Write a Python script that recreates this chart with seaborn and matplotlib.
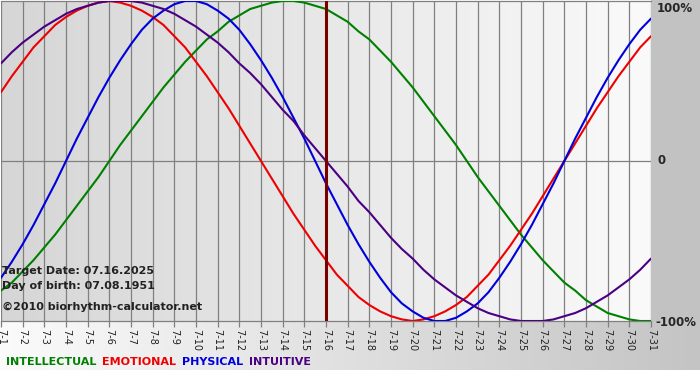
import numpy as np
import pandas as pd
import matplotlib
matplotlib.use("Agg")
import matplotlib.pyplot as plt
import seaborn as sns

# 7-1 .. 7-31 (2025), birth 07.08.1951, target 07.16.2025
# values read every half day (index 0 = 7-1, step 0.5 day)
day_labels = ["7-%d" % (i + 1) for i in range(31)]

physical = [-73, -63, -52, -40, -27, -14, 0, 14, 27, 40, 52, 63, 73, 82, 89, 94,
            98, 100, 100, 98, 94, 89, 82, 73, 63, 52, 40, 27, 14, 0, -14, -27,
            -40, -52, -63, -73, -82, -89, -94, -98, -100, -100, -98, -94, -89, -82,
            -73, -63, -52, -40, -27, -14, 0, 14, 27, 40, 52, 63, 73, 82, 89]
emotional = [43, 53, 62, 71, 78, 85, 90, 94, 97, 99, 100, 99, 97, 94, 90, 85,
             78, 71, 62, 53, 43, 33, 22, 11, 0, -11, -22, -33, -43, -53, -62, -71,
             -78, -85, -90, -94, -97, -99, -100, -99, -97, -94, -90, -85, -78, -71,
             -62, -53, -43, -33, -22, -11, 0, 11, 22, 33, 43, 53, 62, 71, 78]
intellectual = [-81, -76, -69, -62, -54, -46, -37, -28, -19, -10, 0, 10, 19, 28, 37, 46,
                54, 62, 69, 76, 81, 87, 91, 95, 97, 99, 100, 100, 99, 97, 95, 91,
                87, 81, 76, 69, 62, 54, 46, 37, 28, 19, 10, 0, -10, -19,
                -28, -37, -46, -54, -62, -69, -76, -81, -87, -91, -95, -97, -99, -100, -100]
intuitive = [61, 68, 74, 79, 84, 88, 92, 95, 97, 99, 100, 100, 100, 99, 97, 95,
             92, 88, 84, 79, 74, 68, 61, 55, 48, 40, 32, 25, 16, 8, 0, -8,
             -16, -25, -32, -40, -48, -55, -61, -68, -74, -79, -84, -88, -92, -95,
             -97, -99, -100, -100, -100, -99, -97, -95, -92, -88, -84, -79, -74, -68, -61]

target_day = 15
series_names = ["INTELLECTUAL", "EMOTIONAL", "PHYSICAL", "INTUITIVE"]
colors = {"INTELLECTUAL": "#008000", "EMOTIONAL": "#ee0000",
          "PHYSICAL": "#0000dd", "INTUITIVE": "#4b0082"}

steps = [i / 2 for i in range(len(physical))]
df = pd.DataFrame({
    "day": steps * 4,
    "value": intellectual + emotional + physical + intuitive,
    "series": sum([[s] * len(steps) for s in series_names], []),
})

sns.set_style("white")
plt.rcParams["font.family"] = ["DejaVu Sans"]

W, H = 700, 380
fig = plt.figure(figsize=(7, 3.8), dpi=100)


def px(x, y):
    return x / W, 1 - y / H


# background panels (pixel coords)
bg = fig.add_axes([0, 0, 1, 1])
grad = np.linspace(0, 1, 256)[None, :]
bg.imshow(grad, extent=[0, 700, 370, 321], aspect="auto",
          cmap=matplotlib.colors.LinearSegmentedColormap.from_list("b", ["#fbfbfb", "#c4c4c4"]))
bg.add_patch(plt.Rectangle((651, 0), 49, 321, color="#c2c2c2", lw=0))
bg.set_xlim(0, W)
bg.set_ylim(H, 0)
bg.axis("off")

ax = fig.add_axes([1 / W, 1 - 321 / H, 650 / W, 320 / H])
ax.set_facecolor("none")
ax.imshow(grad, extent=[0, 30, -100, 100], aspect="auto", zorder=0,
          cmap=matplotlib.colors.LinearSegmentedColormap.from_list("p", ["#d6d6d6", "#fafafa"]))

for d in range(31):
    ax.axvline(d, color="#808080", lw=0.9, zorder=1)
ax.axhline(0, color="#808080", lw=0.9, zorder=1)

sns.lineplot(data=df, x="day", y="value", hue="series", palette=colors,
             legend=False, lw=1.5, ax=ax, zorder=3)

ax.axvline(target_day, color="#7a0000", lw=2.2, zorder=4)

ax.set_xlim(0, 30)
ax.set_ylim(-100, 100)
ax.set_xticks(range(31))
ax.set_xticklabels(day_labels, rotation=270, fontsize=7, color="#222222")
ax.set_yticks([])
ax.tick_params(axis="x", bottom=True, length=4, width=0.9, color="#808080", pad=2)
ax.set_xlabel("")
ax.set_ylabel("")
for side in ["top", "bottom"]:
    ax.spines[side].set_color("#808080")
    ax.spines[side].set_linewidth(0.9)
for side in ["left", "right"]:
    ax.spines[side].set_visible(False)

# right side labels
fig.text(*px(657, 9), "100%", fontsize=8.5, fontweight="bold", va="center", ha="left")
fig.text(*px(657, 160), "0", fontsize=8.5, fontweight="bold", va="center", ha="left")
fig.text(*px(655, 322), "-100%", fontsize=8.5, fontweight="bold", va="center", ha="left")

# info texts
info = ["Target Date: 07.16.2025", "Day of birth: 07.08.1951",
        "\u00a92010 biorhythm-calculator.net"]
for txt, y in zip(info, [271, 286, 307]):
    fig.text(*px(2, y), txt, fontsize=8, fontweight="bold", va="center",
             color="#222222", zorder=10)

# legend row
x = 6
for name in series_names:
    t = fig.text(*px(x, 362), name, fontsize=8, fontweight="bold", va="center",
                 color=colors[name])
    fig.canvas.draw()
    x += t.get_window_extent().width + 6

fig.savefig("out.png", dpi=100)
